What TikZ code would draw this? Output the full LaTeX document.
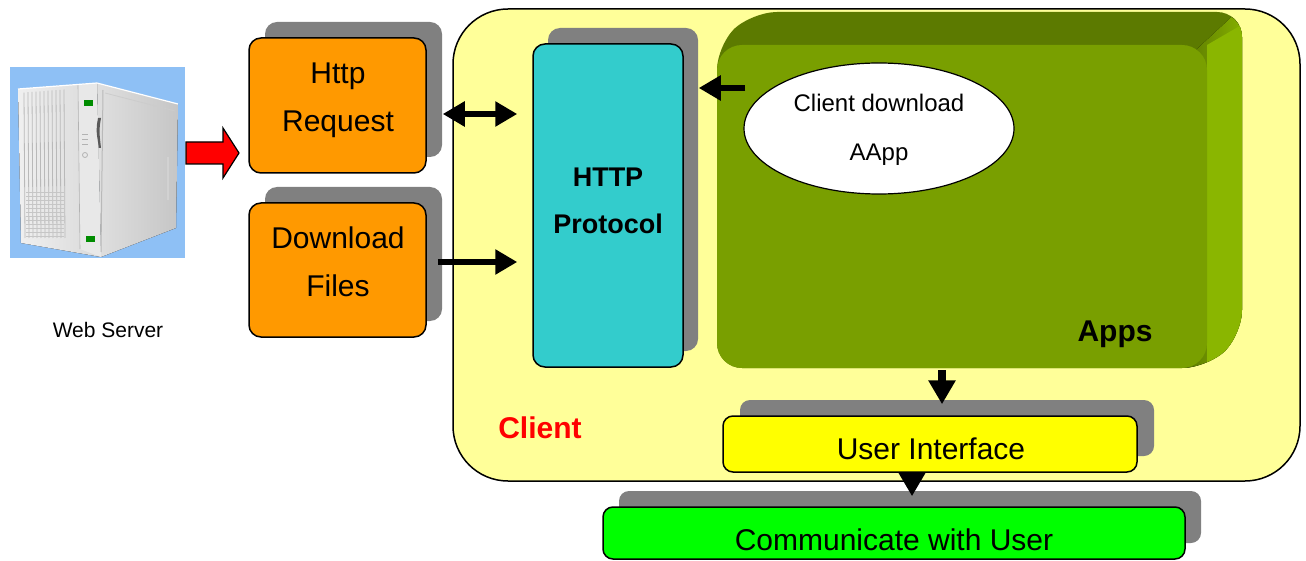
\documentclass[tikz,border=0pt]{standalone}
\usepackage{fontspec}
\setmainfont{Liberation Sans}
\usetikzlibrary{arrows.meta,shapes.geometric,shadows}

\definecolor{clientfill}{RGB}{255,255,153}
\definecolor{boxorange}{RGB}{255,153,0}
\definecolor{protocyan}{RGB}{51,204,204}
\definecolor{shadowgray}{RGB}{128,128,128}
\definecolor{appsfront}{RGB}{121,159,0}
\definecolor{appstop}{RGB}{92,122,0}
\definecolor{appsside}{RGB}{138,182,0}
\definecolor{uiyellow}{RGB}{255,255,0}
\definecolor{commgreen}{RGB}{0,255,0}
\definecolor{skyblue}{RGB}{142,192,245}

\tikzset{
  box/.style={draw, line width=1.5pt, rounded corners=12pt, inner sep=0pt},
  shade/.style={drop shadow={shadow xshift=16pt, shadow yshift=16pt, fill=shadowgray, opacity=1}},
  lbl/.style={anchor=base, inner sep=0pt, font=\fontsize{30}{36}\selectfont},
  blbl/.style={lbl, font=\fontsize{27}{32}\selectfont\bfseries},
  arr/.style={line width=6pt, -{Triangle[length=22pt,width=24pt]}},
  darr/.style={line width=6pt, {Triangle[length=22pt,width=24pt]}-{Triangle[length=22pt,width=24pt]}},
  varr/.style={line width=8pt, -{Triangle[length=24pt,width=26pt]}},
}

\begin{document}
\begin{tikzpicture}[x=1pt, y=-1pt]
\useasboundingbox (0,0) rectangle (1306,561);

% ---------- web server ----------
\node[fill=skyblue, minimum width=175pt, minimum height=191pt, inner sep=0pt] (srv) at (97.5,162.5) {};
% side panel
\fill[left color=gray!25, right color=gray!45] (97,83) -- (178,104) -- (176,228) -- (101,257) -- cycle;
% front panel
\fill[left color=gray!12, right color=gray!30] (18,89) -- (97,83) -- (101,257) -- (21,243) -- cycle;
\fill[gray!18] (78,85) -- (97,83) -- (101,257) -- (80,249) -- cycle;
\draw[gray!60, line width=0.6pt] (78,85) -- (80,249);
\draw[white, line width=1.2pt] (18,89) -- (97,83) -- (178,104);
% vertical grooves
\foreach \x in {24,28,...,64}
  \draw[gray!55, line width=0.8pt] (\x,{93-(\x-18)*0.076}) -- (\x+1,238);
% lower grille
\foreach \y in {192,196,...,236}
  \draw[gray!45, line width=0.5pt] (26,\y) -- (64,\y);
% door seam, top edge, handle
\draw[gray!55, line width=1pt] (103,90) -- (101,252);
\draw[gray!40, line width=0.8pt] (105,93) -- (175,111);
\draw[gray!35, line width=1.6pt] (168,157) -- (168,200);
% slot
\fill[gray!70!black] (98,118) .. controls (96,130) .. (99,148) -- (101,148) .. controls (99,130) .. (101,118) -- cycle;
% indicators and buttons
\fill[green!55!black] (84,100) rectangle (93,106);
\fill[green!55!black] (86,236) rectangle (95,242);
\foreach \y in {135,140,145}
  \draw[gray!60, line width=1pt] (82,\y) -- (88,\y);
\draw[gray!60, line width=0.8pt] (85,155) circle (2.5pt);
\node[anchor=base, inner sep=0pt, font=\fontsize{21}{25}\selectfont] (srvlbl) at (108,337) {Web Server};

% red block arrow
\filldraw[fill=red, draw=black, line width=1.2pt]
  (186,142) -- (223,142) -- (223,128) -- (239,153) -- (223,178) -- (223,164) -- (186,164) -- cycle;

% ---------- client area ----------
\node[draw, line width=1.5pt, fill=clientfill, rounded corners=55pt, minimum width=847pt, minimum height=472pt, inner sep=0pt] (client) at (876.5,245) {};
\node[lbl, font=\fontsize{30}{36}\selectfont\bfseries, text=red] (clientlbl) at (540,438) {Client};

% request / files boxes
\node[box, shade, fill=boxorange, minimum width=177pt, minimum height=135pt] (req) at (337.5,105.5) {};
\node[lbl] (req1) at (338,84) {Http};
\node[lbl] (req2) at (338,132) {Request};
\node[box, shade, fill=boxorange, minimum width=177pt, minimum height=134pt] (files) at (337.5,270) {};
\node[lbl] (files1) at (338,249) {Download};
\node[lbl] (files2) at (338,297) {Files};

% protocol box
\node[box, drop shadow={shadow xshift=15pt, shadow yshift=16pt, fill=shadowgray, opacity=1}, fill=protocyan, minimum width=150pt, minimum height=323pt] (proto) at (608,205.5) {};
\node[blbl] (proto1) at (608,187) {HTTP};
\node[blbl] (proto2) at (608,234) {Protocol};

% apps block with bevelled top and side
\path[fill=appstop, rounded corners=25pt] (717,368) -- (717,45) -- (752,12) -- (1242,12) -- (1242,335) -- (1207,368) -- cycle;
\begin{scope}
  \clip[rounded corners=25pt] (717,368) -- (717,45) -- (752,12) -- (1242,12) -- (1242,335) -- (1207,368) -- cycle;
  \fill[left color=appstop, right color=appsside] (1185,60) -- (1250,0) -- (1250,400) -- (1185,400) -- cycle;
  \fill[appsside] (1207,45) -- (1250,20) -- (1250,400) -- (1207,400) -- cycle;
\end{scope}
\node[fill=appsfront, rounded corners=25pt, minimum width=490pt, minimum height=323pt, inner sep=0pt] (apps) at (962,206.5) {};
\node[lbl, font=\fontsize{30}{36}\selectfont\bfseries] (appslbl) at (1115,341) {Apps};

\node[ellipse, draw, fill=white, line width=1.2pt, minimum width=270pt, minimum height=131pt, inner sep=0pt] (dl) at (879,128.5) {};
\node[lbl, font=\fontsize{24}{28}\selectfont] (dl1) at (879,112) {Client download};
\node[lbl, font=\fontsize{24}{28}\selectfont] (dl2) at (879,161) {AApp};

% user interface and user boxes
\node[box, drop shadow={shadow xshift=17pt, shadow yshift=16pt, fill=shadowgray, opacity=1}, fill=uiyellow, rounded corners=10pt, minimum width=414pt, minimum height=56pt] (ui) at (930,444) {};
\node[lbl] (uilbl) at (931,459) {User Interface};
\node[box, shade, fill=commgreen, rounded corners=10pt, minimum width=582pt, minimum height=52pt] (comm) at (894,533) {};
\node[lbl] (commlbl) at (894,550) {Communicate with User};

% connectors
\draw[darr] ([shift={(16,8.5)}]req.east) -- ([shift={(-15,-91.5)}]proto.west);
\draw[arr] ([shift={(11,-8)}]files.east) -- ([shift={(-15,56.5)}]proto.west);
\draw[arr] ([shift={(2,-40.5)}]dl.west) -- ([shift={(15,-117.5)}]proto.east);
\draw[varr] ([shift={(-20,2)}]apps.south) -- ([shift={(12,-11)}]ui.north);
\draw[varr] ([shift={(-18,2)}]ui.south) -- ([shift={(18,-10)}]comm.north);
\end{tikzpicture}
\end{document}
